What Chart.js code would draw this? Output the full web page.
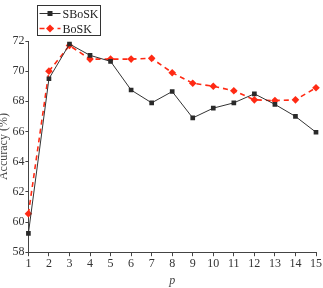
<!DOCTYPE html>
<html>
<head>
<meta charset="utf-8">
<script src="https://cdn.jsdelivr.net/npm/chart.js@4"></script>
<style>
  html, body { margin: 0; padding: 0; background: #fff; }
  #wrap { width: 323px; height: 288px; }
</style>
</head>
<body>
<div id="wrap"><canvas id="c" width="323" height="288"></canvas></div>
<script>
// values
const pValues = ['1', '2', '3', '4', '5', '6', '7', '8', '9', '10', '11', '12', '13', '14', '15'];
const sbosk = [59.25, 69.5, 71.8, 71.05, 70.65, 68.75, 67.9, 68.65, 66.9, 67.55, 67.9, 68.5, 67.8, 67.0, 65.95];
const bosk = [60.55, 70.0, 71.7, 70.8, 70.8, 70.8, 70.85, 69.9, 69.2, 69.0, 68.7, 68.1, 68.05, 68.1, 68.9];
const yTicks = [58, 60, 62, 64, 66, 68, 70, 72];

const serif = '"Liberation Serif", "DejaVu Serif", serif';

// legend with a frame, line + marker like the original
const boxLegend = {
    id: 'boxLegend',
    afterDraw(chart) {
        const ctx = chart.ctx;
        const x0 = 37.5, y0 = 5.5, w = 63, h = 30;
        ctx.save();
        ctx.strokeStyle = '#333';
        ctx.lineWidth = 1;
        ctx.strokeRect(x0, y0, w, h);
        chart.data.datasets.forEach((ds, i) => {
            const yy = y0 + 8 + i * 15;
            ctx.beginPath();
            ctx.strokeStyle = ds.borderColor;
            ctx.lineWidth = ds.borderWidth;
            ctx.setLineDash(ds.borderDash || []);
            ctx.moveTo(x0 + 2, yy);
            ctx.lineTo(x0 + 23, yy);
            ctx.stroke();
            ctx.setLineDash([]);
            ctx.fillStyle = ds.pointBackgroundColor;
            ctx.beginPath();
            if (ds.pointStyle === 'rectRot') {
                const r = 4;
                ctx.moveTo(x0 + 12.5, yy - r);
                ctx.lineTo(x0 + 12.5 + r, yy);
                ctx.lineTo(x0 + 12.5, yy + r);
                ctx.lineTo(x0 + 12.5 - r, yy);
                ctx.closePath();
            } else {
                ctx.rect(x0 + 12.5 - 2.5, yy - 2.5, 5, 5);
            }
            ctx.fill();
            ctx.fillStyle = '#222';
            ctx.font = '12px ' + serif;
            ctx.textBaseline = 'middle';
            ctx.fillText(ds.label, x0 + 25, yy + 1);
        });
        ctx.restore();
    }
};

const ctx = document.getElementById('c').getContext('2d');
new Chart(ctx, {
    type: 'line',
    data: {
        labels: pValues,
        datasets: [{
            label: 'SBoSK',
            data: sbosk,
            borderColor: '#333333',
            borderWidth: 1,
            pointStyle: 'rect',
            pointRadius: 3.3,
            pointBackgroundColor: '#2a2a2a',
            pointBorderColor: '#2a2a2a',
            pointBorderWidth: 0,
            tension: 0
        }, {
            label: 'BoSK',
            data: bosk,
            borderColor: '#ff2a14',
            borderWidth: 1.6,
            borderDash: [5, 4],
            pointStyle: 'rectRot',
            pointRadius: 3.8,
            pointBackgroundColor: '#ff2a14',
            pointBorderColor: '#ff2a14',
            pointBorderWidth: 0,
            tension: 0
        }]
    },
    options: {
        responsive: false,
        animation: false,
        layout: { padding: { top: 41, right: 7, left: -3, bottom: 0 } },
        plugins: {
            legend: { display: false },
            tooltip: { enabled: false }
        },
        scales: {
            x: {
                offset: false,
                grid: { drawOnChartArea: false, color: '#444', tickLength: 4 },
                border: { color: '#444', width: 1 },
                ticks: { color: '#333', font: { family: serif, size: 12 }, maxRotation: 0, autoSkip: false, padding: 0 },
                title: { display: true, text: 'p', color: '#444', font: { family: serif, size: 12, style: 'italic' }, padding: { top: 3, bottom: 0 } }
            },
            y: {
                min: yTicks[0],
                max: yTicks[yTicks.length - 1],
                grid: { drawOnChartArea: false, color: '#444', tickLength: 3 },
                border: { color: '#444', width: 1 },
                ticks: {
                    stepSize: 1,
                    color: '#333',
                    font: { family: serif, size: 12 },
                    padding: 1,
                    callback: (v) => yTicks.includes(v) ? v : ''
                },
                title: { display: true, text: 'Accuracy (%)', color: '#444', font: { family: serif, size: 12 }, padding: { top: 0, bottom: 0 } }
            }
        }
    },
    plugins: [boxLegend]
});
</script>
</body>
</html>
